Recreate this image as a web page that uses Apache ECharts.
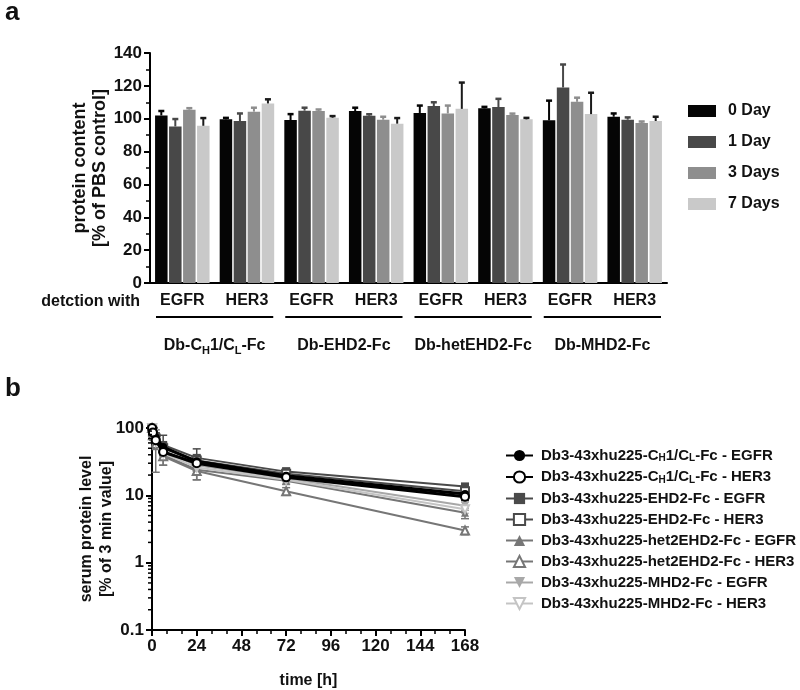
<!DOCTYPE html>
<html><head><meta charset="utf-8">
<script src="https://cdn.jsdelivr.net/npm/echarts@6/dist/echarts.min.js"></script>
<style>html,body{margin:0;padding:0;background:#fff}#c{width:800px;height:690px}</style>
</head><body><div id="c"></div>
<script>
// ---------- Panel a data ----------
const categories = ['EGFR','HER3','EGFR','HER3','EGFR','HER3','EGFR','HER3'];
const constructs = ['Db-C_H1/C_L-Fc','Db-EHD2-Fc','Db-hetEHD2-Fc','Db-MHD2-Fc'];
const dayNames = ['0 Day','1 Day','3 Days','7 Days'];
const day0 = [102, 99.6, 99.2, 104.7, 103.5, 106.3, 99, 101.2];
const day1 = [95.3, 98.6, 104.9, 101.8, 107.7, 107.1, 119, 99.4];
const day3 = [105.5, 104.3, 104.7, 99.4, 103.2, 102.2, 110.3, 97.4];
const day7 = [95.7, 109.3, 100.6, 97, 106, 99.6, 102.8, 98.6];
const day0Err = [2.7, 0, 3.6, 2, 4.5, 0.4, 12, 2];
const day1Err = [4.5, 4.6, 1.8, 0.6, 2.3, 5, 14, 1.4];
const day3Err = [0.8, 2.4, 0.2, 1.8, 4.8, 0, 2.5, 0];
const day7Err = [4.7, 2.5, 1, 3.4, 16, 0.5, 13, 2.6];

// ---------- Panel b data ----------
const timePoints = [0.05, 0.5, 2, 6, 24, 72, 168];
const seriesNamesB = [
  'Db3-43xhu225-C_H1/C_L-Fc - EGFR',
  'Db3-43xhu225-C_H1/C_L-Fc - HER3',
  'Db3-43xhu225-EHD2-Fc - EGFR',
  'Db3-43xhu225-EHD2-Fc - HER3',
  'Db3-43xhu225-het2EHD2-Fc - EGFR',
  'Db3-43xhu225-het2EHD2-Fc - HER3',
  'Db3-43xhu225-MHD2-Fc - EGFR',
  'Db3-43xhu225-MHD2-Fc - HER3'
];
const ch1Egfr  = [100, 90, 72, 52, 32, 19.5, 10.5];
const ch1Her3  = [100, 86, 66, 44, 30, 18.5, 9.5];
const ehd2Egfr = [100, 92, 75, 56, 36, 22.5, 13.5];
const ehd2Her3 = [100, 88, 70, 50, 33, 21, 11.5];
const het2Egfr = [100, 80, 62, 40, 24, 16.5, 5.5];
const het2Her3 = [100, 78, 58, 38, 23, 11.5, 3];
const mhd2Egfr = [100, 84, 64, 46, 28, 18, 7];
const mhd2Her3 = [100, 82, 62, 42, 26, 17, 6.2];
const ch1EgfrErr  = [0, 6, 8, 6, 4, 2.5, 1.5];
const ch1Her3Err  = [0, 6, 6, 5, 4, 2, 1];
const ehd2EgfrErr = [0, 8, 10, 22, 13, 3, 1.5];
const ehd2Her3Err = [0, 6, 8, 10, 6, 3, 1.5];
const het2EgfrErr = [0, 10, 14, 12, 7, 2, 1];
const het2Her3Err = [0, 12, 36, 10, 6, 1.5, 0.4];
const mhd2EgfrErr = [0, 8, 8, 8, 5, 2, 1];
const mhd2Her3Err = [0, 8, 8, 8, 5, 2, 0.8];
const yTicksB = [0.1, 1, 10, 100];
const yMinorB = [0.2,0.3,0.4,0.5,0.6,0.7,0.8,0.9, 2,3,4,5,6,7,8,9, 20,30,40,50,60,70,80,90];

// ---------- styles ----------
const FF = '"Liberation Sans", Arial, Helvetica, sans-serif';
const TXT = '#111';
const barColors = ['#050505', '#484848', '#8e8e8e', '#c9c9c9'];
const errColors = ['#050505', '#484848', '#8e8e8e', '#1a1a1a'];
const lineColors = ['#000', '#000', '#4a4a4a', '#4a4a4a', '#767676', '#767676', '#a8a8a8', '#c4c4c4'];
const symbols = ['circle','emptyCircle','rect','emptyRect','triangle','emptyTriangle','triangle','emptyTriangle'];
const symRot = [0,0,0,0,0,0,180,180];
const BW = 12.5, BGAP = 1.5;

function richSub(s){ return '{a|' + s.replace(/_(\w)/g, '}{s|$1}{a|') + '}'; }

const daysV = [day0, day1, day3, day7];
const daysE = [day0Err, day1Err, day3Err, day7Err];
const valsB = [ch1Egfr, ch1Her3, ehd2Egfr, ehd2Her3, het2Egfr, het2Her3, mhd2Egfr, mhd2Her3];
const errsB = [ch1EgfrErr, ch1Her3Err, ehd2EgfrErr, ehd2Her3Err, het2EgfrErr, het2Her3Err, mhd2EgfrErr, mhd2Her3Err];

const chart = echarts.init(document.getElementById('c'), null, {renderer:'canvas'});

const barSeries = dayNames.map((n, d) => ({
  name: n, type: 'bar', xAxisIndex: 0, yAxisIndex: 0,
  data: daysV[d], barWidth: BW, barGap: (BGAP / BW * 100) + '%',
  itemStyle: {color: barColors[d]}, z: 2
}));

const errAData = [];
daysV.forEach((arr, d) => arr.forEach((v, i) => errAData.push([i, v, daysE[d][i], d])));

const errASeries = {
  type: 'custom', xAxisIndex: 0, yAxisIndex: 0, data: errAData, z: 5, clip: false,
  renderItem: (params, api) => {
    const i = api.value(0), v = api.value(1), e = api.value(2), d = api.value(3);
    const base = api.coord([i, v]);
    const top = api.coord([i, v + e]);
    const total = 4 * BW + 3 * BGAP;
    const cx = base[0] - total / 2 + d * (BW + BGAP) + BW / 2;
    const st = {stroke: errColors[d], lineWidth: 2};
    const cap = Math.min(top[1], base[1] - 1.5);
    return {type: 'group', children: [
      {type: 'line', shape: {x1: cx, y1: base[1], x2: cx, y2: cap}, style: st},
      {type: 'line', shape: {x1: cx - 3, y1: cap, x2: cx + 3, y2: cap}, style: Object.assign({}, st, {lineWidth: 2.5})}
    ]};
  }
};

const lineSeries = seriesNamesB.map((n, k) => ({
  name: n, type: 'line', xAxisIndex: 2, yAxisIndex: 1,
  data: timePoints.map((t, i) => [t, valsB[k][i]]),
  symbol: symbols[k], symbolRotate: symRot[k], symbolSize: 8,
  lineStyle: {color: lineColors[k], width: k < 2 ? 3 : 2},
  itemStyle: {color: lineColors[k], borderWidth: 2},
  z: 3 + (k < 2 ? 2 : 0)
}));

const errBData = [];
valsB.forEach((arr, k) => arr.forEach((v, i) => { if (errsB[k][i] > 0) errBData.push([timePoints[i], v, errsB[k][i], k]); }));

const errBSeries = {
  type: 'custom', xAxisIndex: 2, yAxisIndex: 1, data: errBData, z: 2, clip: false,
  renderItem: (params, api) => {
    const t = api.value(0), v = api.value(1), e = api.value(2), k = api.value(3);
    const hi = api.coord([t, v + e]);
    const lo = api.coord([t, v - e]);
    const st = {stroke: lineColors[k], lineWidth: 1.5};
    return {type: 'group', children: [
      {type: 'line', shape: {x1: hi[0], y1: hi[1], x2: lo[0], y2: lo[1]}, style: st},
      {type: 'line', shape: {x1: hi[0] - 4, y1: hi[1], x2: hi[0] + 4, y2: hi[1]}, style: st},
      {type: 'line', shape: {x1: lo[0] - 4, y1: lo[1], x2: lo[0] + 4, y2: lo[1]}, style: st}
    ]};
  }
};

const minorBSeries = {
  type: 'custom', xAxisIndex: 2, yAxisIndex: 1, data: yMinorB.map(v => [0, v]), z: 6, clip: false,
  silent: true,
  renderItem: (params, api) => {
    const p = api.coord([0, api.value(1)]);
    return {type: 'line', shape: {x1: p[0] - 4, y1: p[1], x2: p[0], y2: p[1]}, style: {stroke: '#000', lineWidth: 1.5}};
  }
};

const axisTxt = {color: TXT, fontFamily: FF, fontWeight: 'bold'};
const richStyles = (fs, lh) => ({
  a: {fontSize: fs, fontWeight: 'bold', fontFamily: FF, color: TXT, lineHeight: lh},
  s: {fontSize: Math.round(fs * 0.68), fontWeight: 'bold', fontFamily: FF, color: TXT, lineHeight: Math.round(fs * 0.68), verticalAlign: 'bottom'}
});

const option = {
  animation: false,
  backgroundColor: '#fff',
  grid: [
    {left: 150, top: 53, width: 517, height: 230},
    {left: 152, top: 428, width: 313, height: 207}
  ],
  legend: [
    {
      data: dayNames, orient: 'vertical', left: 688, top: 102, padding: 0,
      itemWidth: 28, itemHeight: 12, itemGap: 13, icon: 'rect',
      textStyle: Object.assign({fontSize: 16, lineHeight: 18, padding: [0,0,0,7]}, axisTxt)
    },
    {
      data: seriesNamesB, orient: 'vertical', left: 505, top: 448, padding: 0,
      itemWidth: 27, itemHeight: 14, itemGap: 6,
      formatter: n => richSub(n),
      textStyle: {padding: [0,0,0,3], rich: richStyles(15, 16)}
    }
  ],
  xAxis: [
    {
      type: 'category', gridIndex: 0, data: categories,
      axisLine: {lineStyle: {color: '#000', width: 2}},
      axisTick: {alignWithLabel: true, length: 5, lineStyle: {color: '#000', width: 2}},
      axisLabel: Object.assign({fontSize: 16, margin: 10, interval: 0}, axisTxt)
    },
    {
      type: 'category', gridIndex: 0, data: constructs, position: 'bottom',
      axisLine: {show: false}, axisTick: {show: false},
      axisLabel: {interval: 0, margin: 53, formatter: v => richSub(v), rich: richStyles(16, 20)}
    },
    {
      type: 'value', gridIndex: 1, min: 0, max: 168, interval: 24,
      name: 'time [h]', nameLocation: 'middle', nameGap: 43, nameMoveOverlap: false,
      nameTextStyle: Object.assign({fontSize: 16}, axisTxt),
      axisLine: {onZero: false, lineStyle: {color: '#000', width: 2}},
      axisTick: {length: 6, lineStyle: {color: '#000', width: 2}},
      minorTick: {show: true, splitNumber: 3, length: 4, lineStyle: {color: '#000', width: 1.5}},
      splitLine: {show: false},
      axisLabel: Object.assign({fontSize: 17, margin: 8}, axisTxt)
    }
  ],
  yAxis: [
    {
      type: 'value', gridIndex: 0, min: 0, max: 140, interval: 20,
      name: 'protein content\n[% of PBS control]', nameLocation: 'middle', nameGap: 40, nameMoveOverlap: false,
      nameTextStyle: Object.assign({fontSize: 18, lineHeight: 20}, axisTxt),
      axisLine: {show: true, lineStyle: {color: '#000', width: 2}},
      axisTick: {show: true, length: 6, lineStyle: {color: '#000', width: 2}},
      minorTick: {show: true, splitNumber: 2, length: 4, lineStyle: {color: '#000', width: 1.5}},
      splitLine: {show: false},
      axisLabel: Object.assign({fontSize: 17, margin: 8}, axisTxt)
    },
    {
      type: 'log', gridIndex: 1, min: 0.1, max: 100, logBase: 10,
      name: 'serum protein level\n[% of 3 min value]', nameLocation: 'middle', nameGap: 35, nameMoveOverlap: false,
      nameTextStyle: Object.assign({fontSize: 16, lineHeight: 20}, axisTxt),
      axisLine: {show: true, lineStyle: {color: '#000', width: 2}},
      axisTick: {show: true, length: 6, lineStyle: {color: '#000', width: 2}},
      splitLine: {show: false},
      axisLabel: Object.assign({fontSize: 17, margin: 8, formatter: v => String(+(+v).toPrecision(3))}, axisTxt)
    }
  ],
  series: [...barSeries, errASeries, errBSeries, ...lineSeries, minorBSeries]
};
chart.setOption(option);

// group bracket lines and extra text, positioned through the axes
const p0 = chart.convertToPixel({xAxisIndex: 0}, 0);
const p1 = chart.convertToPixel({xAxisIndex: 0}, 1);
const band = p1 - p0;
const yBase = chart.convertToPixel({yAxisIndex: 0}, 0);
const graphics = [];
constructs.forEach((c, g) => {
  const xa = chart.convertToPixel({xAxisIndex: 0}, 2 * g) - band / 2 + 6;
  const xb = chart.convertToPixel({xAxisIndex: 0}, 2 * g + 1) + band / 2 - 6;
  graphics.push({type: 'line', shape: {x1: xa, y1: yBase + 34, x2: xb, y2: yBase + 34}, style: {stroke: '#000', lineWidth: 2}});
});
graphics.push({type: 'text', x: chart.convertToPixel({xAxisIndex: 0}, 0) - band / 2 - 10, y: yBase + 19,
  style: {text: 'detction with', align: 'right', verticalAlign: 'middle', fontSize: 16, fontWeight: 'bold', fontFamily: FF, fill: TXT}});
graphics.push({type: 'text', x: 5, y: 0, style: {text: 'a', fontSize: 26, fontWeight: 'bold', fontFamily: FF, fill: TXT}});
graphics.push({type: 'text', x: 5, y: 376, style: {text: 'b', fontSize: 26, fontWeight: 'bold', fontFamily: FF, fill: TXT}});
chart.setOption({graphic: graphics});
</script>
</body></html>
